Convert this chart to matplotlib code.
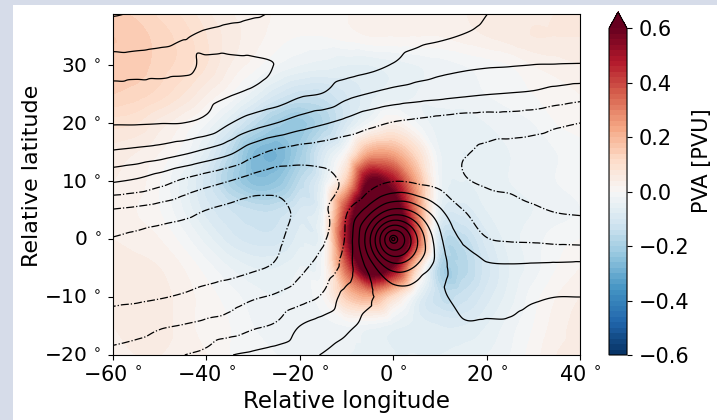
import numpy as np
import matplotlib
matplotlib.use('Agg')
import matplotlib.pyplot as plt
import matplotlib.tri as mtri
from matplotlib.patches import Rectangle

# grid nodes of the fields (rows go north -> south)
lon_nodes = np.arange(-60, 41, 5)
lat_nodes = np.arange(40, -21, -5)

# PV anomaly [PVU] at the nodes
pva_rows = [
    [0.14, 0.13, 0.11, 0.09, 0.06, 0.04, 0.03, 0.02, 0.02, 0.02, 0.02, 0.02, 0.03, 0.03, 0.03, 0.04, 0.04, 0.04, 0.05, 0.06, 0.06],
    [0.16, 0.15, 0.13, 0.11, 0.08, 0.05, 0.03, 0.01, 0.00, 0.00, 0.01, 0.02, 0.02, 0.02, 0.02, 0.03, 0.04, 0.05, 0.06, 0.06, 0.06],
    [0.15, 0.15, 0.13, 0.11, 0.08, 0.04, 0.01, -0.02, -0.04, -0.05, -0.06, -0.06, -0.05, -0.04, -0.03, -0.02, -0.01, 0.00, 0.02, 0.03, 0.04],
    [0.14, 0.13, 0.11, 0.08, 0.04, 0.00, -0.05, -0.10, -0.13, -0.13, -0.10, -0.07, -0.05, -0.04, -0.03, -0.03, -0.02, -0.01, 0.00, 0.01, 0.02],
    [0.09, 0.08, 0.05, 0.02, -0.02, -0.08, -0.15, -0.21, -0.23, -0.18, -0.10, -0.02, 0.03, -0.02, -0.05, -0.05, -0.04, -0.03, -0.02, 0.00, 0.01],
    [0.05, 0.04, 0.02, -0.01, -0.07, -0.16, -0.26, -0.28, -0.21, -0.10, 0.01, 0.22, 0.22, 0.10, -0.04, -0.06, -0.05, -0.04, -0.03, -0.02, -0.01],
    [0.04, 0.03, 0.00, -0.05, -0.11, -0.19, -0.25, -0.24, -0.16, -0.06, 0.15, 0.60, 0.50, 0.22, -0.03, -0.06, -0.05, -0.04, -0.03, -0.02, -0.01],
    [0.03, 0.02, 0.00, -0.04, -0.09, -0.12, -0.14, -0.14, -0.10, -0.03, 0.42, 0.85, 0.72, 0.30, -0.06, -0.09, -0.06, -0.05, -0.04, -0.03, -0.02],
    [0.04, 0.03, 0.02, -0.01, -0.05, -0.09, -0.11, -0.11, -0.07, -0.02, 0.50, 0.95, 0.90, 0.40, -0.12, -0.15, -0.09, -0.05, -0.03, -0.01, 0.00],
    [0.05, 0.05, 0.04, 0.02, -0.01, -0.04, -0.06, -0.06, -0.04, -0.01, 0.35, 0.70, 0.55, 0.12, -0.18, -0.17, -0.11, -0.06, -0.03, 0.00, 0.02],
    [0.05, 0.06, 0.05, 0.03, 0.01, -0.01, -0.03, -0.04, -0.03, 0.00, 0.15, 0.22, 0.10, -0.05, -0.14, -0.13, -0.09, -0.05, -0.01, 0.02, 0.04],
    [0.04, 0.05, 0.05, 0.03, 0.01, 0.00, -0.02, -0.03, -0.03, -0.03, -0.02, -0.03, -0.05, -0.07, -0.08, -0.08, -0.06, -0.03, 0.00, 0.03, 0.05],
    [0.03, 0.04, 0.04, 0.03, 0.02, 0.00, -0.01, -0.02, -0.03, -0.04, -0.04, -0.05, -0.06, -0.06, -0.06, -0.05, -0.04, -0.02, 0.01, 0.04, 0.05],
]

# large-scale part of the contoured field (contour interval 1)
z_rows = [
    [4.3, 4.1, 3.95, 3.8, 3.6, 3.4, 3.2, 3.0, 2.9, 2.8, 2.7, 2.6, 2.5, 2.4, 2.3, 2.15, 2.05, 1.95, 1.8, 1.65, 1.55],
    [3.4, 3.3, 3.2, 3.05, 2.9, 2.8, 2.75, 2.72, 2.7, 2.6, 2.5, 2.4, 2.3, 2.2, 2.1, 1.97, 1.85, 1.6, 1.4, 1.3, 1.25],
    [2.8, 2.85, 2.85, 2.88, 3.08, 3.12, 3.08, 2.98, 2.75, 2.6, 2.45, 2.25, 1.95, 1.6, 1.35, 1.2, 1.1, 1.05, 0.99, 0.97, 0.95],
    [3.2, 3.2, 3.2, 3.25, 3.2, 3.05, 2.85, 2.6, 2.15, 1.95, 1.3, 0.95, 0.65, 0.45, 0.3, 0.15, 0.03, -0.05, -0.15, -0.4, -0.6],
    [3.05, 3.05, 3.02, 3.0, 2.75, 2.05, 1.45, 1.0, 0.5, 0.1, -0.3, -0.75, -1.05, -1.2, -1.35, -1.5, -1.55, -1.55, -1.65, -1.85, -2.0],
    [1.9, 1.75, 1.55, 1.2, 0.75, 0.2, -0.65, -1.2, -1.45, -1.55, -1.7, -1.8, -1.85, -1.85, -1.85, -1.95, -2.1, -2.2, -2.25, -2.3, -2.3],
    [0.1, -0.15, -0.6, -1.15, -1.6, -2.0, -2.4, -2.6, -2.45, -2.2, -1.9, -1.6, -1.4, -1.3, -1.3, -1.9, -2.1, -2.15, -2.2, -2.2, -2.2],
    [-2.05, -2.2, -2.4, -2.65, -3.0, -3.2, -3.35, -3.2, -2.8, -2.1, -1.7, -1.7, -1.2, -0.7, -0.4, -1.0, -1.5, -1.7, -1.9, -2.05, -2.1],
    [-3.05, -3.2, -3.35, -3.45, -3.5, -3.5, -3.4, -3.15, -2.6, -2.1, -2.0, -1.3, -0.6, -0.1, 0.0, -0.15, -0.95, -1.1, -1.15, -1.25, -1.3],
    [-3.5, -3.55, -3.55, -3.5, -3.4, -3.3, -3.1, -2.85, -2.2, -1.6, -1.0, -0.9, 0.0, 0.5, 0.9, 0.5, 0.2, 0.15, 0.2, 0.25, 0.3],
    [-3.2, -3.15, -3.05, -2.9, -2.65, -2.4, -2.1, -1.85, -1.4, -0.85, 0.4, 0.75, 1.1, 1.4, 1.15, 0.7, 0.7, 0.75, 0.9, 1.0, 1.0],
    [-2.5, -2.35, -2.1, -1.95, -1.75, -1.55, -1.15, -0.85, 0.0, 0.45, 0.85, 1.2, 1.5, 1.6, 1.5, 1.1, 1.1, 1.1, 1.25, 1.35, 1.4],
    [-1.75, -1.6, -1.4, -1.02, -0.75, -0.05, 0.2, 0.45, 0.7, 1.05, 1.3, 1.5, 1.6, 1.65, 1.65, 1.5, 1.45, 1.45, 1.5, 1.55, 1.6],
]

# vortex at the origin: field added vs. distance from the centre
vortex_lon, vortex_lat = 0.0, 0.0
ring_aspect = 1.24
vortex_r = [0, 0.35, 0.8, 2.1, 3.3, 4.5, 5.7, 6.9, 8.1, 9.3, 10.5, 11.7, 13.0, 15.0]
vortex_z = [9.3, 8.6, 7.6, 6.6, 5.6, 4.6, 3.7, 2.9, 2.2, 1.55, 1.0, 0.55, 0.2, 0.0]
z_levels = np.arange(-3, 12)

pva_ticks = [-0.6, -0.4, -0.2, 0.0, 0.2, 0.4, 0.6]
xticks = [-60, -40, -20, 0, 20, 40]
yticks = [-20, -10, 0, 10, 20, 30]


def node_triangulation(lons, lats):
    lon2d, lat2d = np.meshgrid(lons, lats)
    ny, nx = lon2d.shape
    idx = np.arange(ny * nx).reshape(ny, nx)
    a = idx[:-1, :-1].ravel()
    b = idx[:-1, 1:].ravel()
    c = idx[1:, :-1].ravel()
    d = idx[1:, 1:].ravel()
    tris = np.concatenate([np.stack([a, b, d], 1), np.stack([a, d, c], 1)])
    return mtri.Triangulation(lon2d.ravel(), lat2d.ravel(), tris)


def deg_label(v):
    return f'{v}$\\,^\\circ$'.replace('-', '\u2212')


tri = node_triangulation(lon_nodes, lat_nodes)
pva_fun = mtri.CubicTriInterpolator(tri, np.array(pva_rows).ravel(), kind='geom')
z_fun = mtri.CubicTriInterpolator(tri, np.array(z_rows).ravel(), kind='geom')

glon = np.linspace(-59.999, 39.999, 1001)
glat = np.linspace(-19.999, 39.5, 596)
GX, GY = np.meshgrid(glon, glat)
pva = pva_fun(GX, GY)
r = np.hypot(GX - vortex_lon, (GY - vortex_lat) * ring_aspect)
zfield = z_fun(GX, GY) + np.interp(r, vortex_r, vortex_z)

fig = plt.figure(figsize=(7.17, 4.2), dpi=100)
frame = '#d6dce9'
fig.patches.append(Rectangle((0, 1 - 5 / 420), 1, 5 / 420, transform=fig.transFigure,
                             facecolor=frame, edgecolor='none', zorder=0))
fig.patches.append(Rectangle((0, 0), 13 / 717, 1, transform=fig.transFigure,
                             facecolor=frame, edgecolor='none', zorder=0))

ax = fig.add_axes([0.1576, 0.1548, 0.6513, 0.8119])
cax = fig.add_axes([0.8494, 0.1548, 0.0251, 0.8167])

cf = ax.contourf(GX, GY, pva, levels=np.linspace(-0.6, 0.6, 61), cmap='RdBu_r', extend='max')
ax.contour(GX, GY, zfield, levels=z_levels, colors='k', linewidths=0.9,
           negative_linestyles='dashdot')

ax.set_xlim(-60, 40)
ax.set_ylim(-20, 38.8)
ax.set_xticks(xticks)
ax.set_xticklabels([deg_label(v) for v in xticks])
ax.set_yticks(yticks)
ax.set_yticklabels([deg_label(v) for v in yticks])
ax.tick_params(axis='x', labelsize=15)
ax.tick_params(axis='y', labelsize=14.5, pad=5)
ax.set_xlabel('Relative longitude', fontsize=16.5)
ax.set_ylabel('Relative latitude', fontsize=16)
ax.yaxis.set_label_coords(-0.152, 0.525)

cbar = fig.colorbar(cf, cax=cax, ticks=pva_ticks)
cbar.ax.tick_params(labelsize=15, pad=5)
cbar.ax.set_ylabel('PVA [PVU]', fontsize=15)
cbar.ax.yaxis.set_label_coords(4.6, 0.595)

fig.savefig('out.png', dpi=100)
